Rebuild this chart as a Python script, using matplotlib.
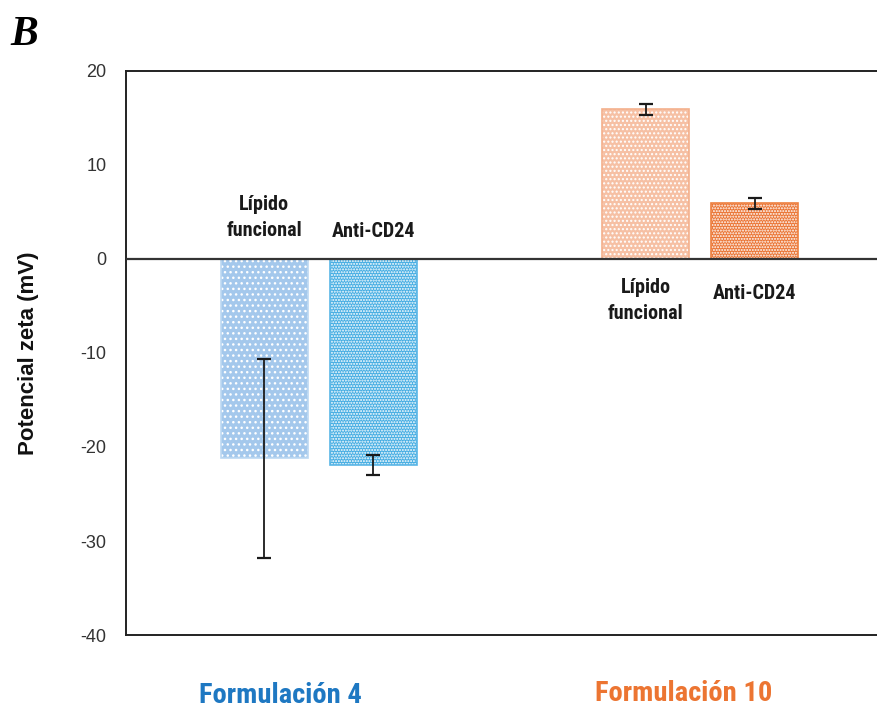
import matplotlib.pyplot as plt

# zeta potential per formulation: [Lipido funcional, Anti-CD24]
groups = ['Formulación 4', 'Formulación 10']
bar_labels = ['Lípido\nfuncional', 'Anti-CD24']
zeta_f4 = [-21.2, -21.9]
err_f4 = [10.6, 1.1]
zeta_f10 = [15.9, 5.9]
err_f10 = [0.6, 0.6]
yticks = [-40, -30, -20, -10, 0, 10, 20]

narrow = ['Roboto Condensed', 'DejaVu Sans']

fig = plt.figure(figsize=(8.78, 7.08), dpi=100)
ax = fig.add_axes((0.1435, 0.103, 0.8565, 0.797))

x_f4 = [0, 1]
x_f10 = [3.5, 4.5]
w = 0.8

faces = ['#A4C8EC', '#45ADE2', '#F6C0A4', '#EA7434']
edges = ['#BCD8F2', '#5AB6E6', '#F4B08C', '#EE8040']
hatches = ['...', '......', '....', '......']

xs = x_f4 + x_f10
vals = zeta_f4 + zeta_f10
errs = err_f4 + err_f10
for i in range(4):
    # white dotted fill, then a coloured outline on top
    ax.bar(xs[i], vals[i], w, color=faces[i], edgecolor='white',
           hatch=hatches[i], linewidth=0, zorder=2)
    ax.bar(xs[i], vals[i], w, fill=False, edgecolor=edges[i],
           linewidth=1.2, zorder=3)
ax.errorbar(xs, vals, yerr=errs, fmt='none', ecolor='#1a1a1a',
            elinewidth=1.3, capsize=5, capthick=1.6, zorder=4)

ax.axhline(0, color='#333333', lw=1.6, zorder=5)

ax.set_xlim(-1.27, 5.63)
ax.set_ylim(-40, 20)
ax.set_yticks(yticks)
ax.set_yticklabels([str(t) for t in yticks], family='Liberation Sans',
                   fontsize=13, color='#333333')
ax.tick_params(axis='y', length=0, pad=14)
ax.set_xticks([])
ax.spines['right'].set_visible(False)
for s in ['left', 'top', 'bottom']:
    ax.spines[s].set_color('#222222')
    ax.spines[s].set_linewidth(1.4)

ax.set_ylabel('Potencial zeta (mV)', family='Liberation Sans',
              fontweight='bold', fontsize=16, color='#111111')
ax.yaxis.set_label_coords(-0.116, 0.5)

lab = dict(ha='center', va='center', family=narrow, fontweight='bold',
           fontsize=14.5, color='#1a1a1a')
ax.text(x_f4[0], 4.4, bar_labels[0], linespacing=1.5, **lab)
ax.text(x_f4[1], 2.9, bar_labels[1], **lab)
ax.text(x_f10[0], -4.4, bar_labels[0], linespacing=1.5, **lab)
ax.text(x_f10[1], -3.7, bar_labels[1], **lab)

# group names below the axes
grp = dict(ha='center', va='center', family=narrow, fontweight='bold',
           fontsize=20.5)
ax.text(0.15, -46.4, groups[0], color='#1E78C2', **grp)
ax.text(3.85, -46.2, groups[1], color='#EC7532', **grp)

fig.text(0.012, 0.95, 'B', family='Liberation Serif', fontweight='bold',
         style='italic', fontsize=30, va='center')

fig.savefig('out.png', dpi=100)
